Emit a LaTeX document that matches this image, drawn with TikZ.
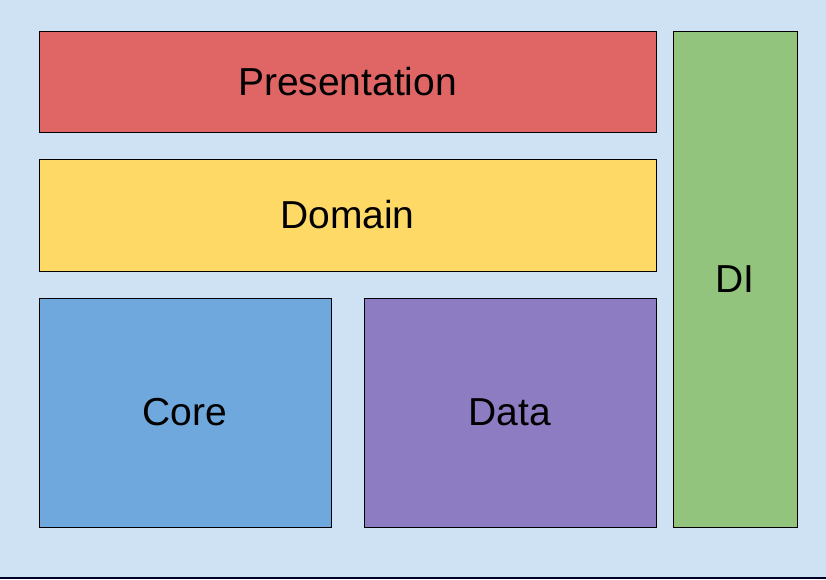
\documentclass[tikz,border=0pt]{standalone}
\usepackage{fontspec}
\setmainfont{Liberation Sans}
\usepackage{xcolor}
\usepackage{tikz}
\usetikzlibrary{positioning}
\definecolor{bgblue}{HTML}{CFE2F3}
\definecolor{layerred}{HTML}{E06666}
\definecolor{layeryellow}{HTML}{FFD966}
\definecolor{layerblue}{HTML}{6FA8DC}
\definecolor{layerpurple}{HTML}{8E7CC3}
\definecolor{layergreen}{HTML}{93C47D}
\tikzstyle{layer} = [rectangle, draw=black, line width=1pt, inner sep=0pt, text centered, font=\fontsize{39}{46}\selectfont]

\begin{document}
\begin{tikzpicture}[x=1pt, y=-1pt]
    \fill[bgblue] (0,0) rectangle (826,579);
    \useasboundingbox (0,0) rectangle (826,579);
    \node(pres)[layer, fill=layerred, minimum width=617pt, minimum height=101pt] at (347.5,81.5) {Presentation};
    \node(dom)[layer, fill=layeryellow, minimum width=617pt, minimum height=112pt] at (347.5,215) {Domain};
    \node(core)[layer, fill=layerblue, minimum width=292pt, minimum height=229pt] at (185,412.5) {Core};
    \node(data)[layer, fill=layerpurple, minimum width=292pt, minimum height=229pt] at (510,412.5) {Data};
    \node(di)[layer, fill=layergreen, minimum width=124pt, minimum height=496pt] at (735,279) {DI};
    \draw[line width=2pt, black!85!blue] (0,578) -- (826,578);
  \end{tikzpicture}
\end{document}
